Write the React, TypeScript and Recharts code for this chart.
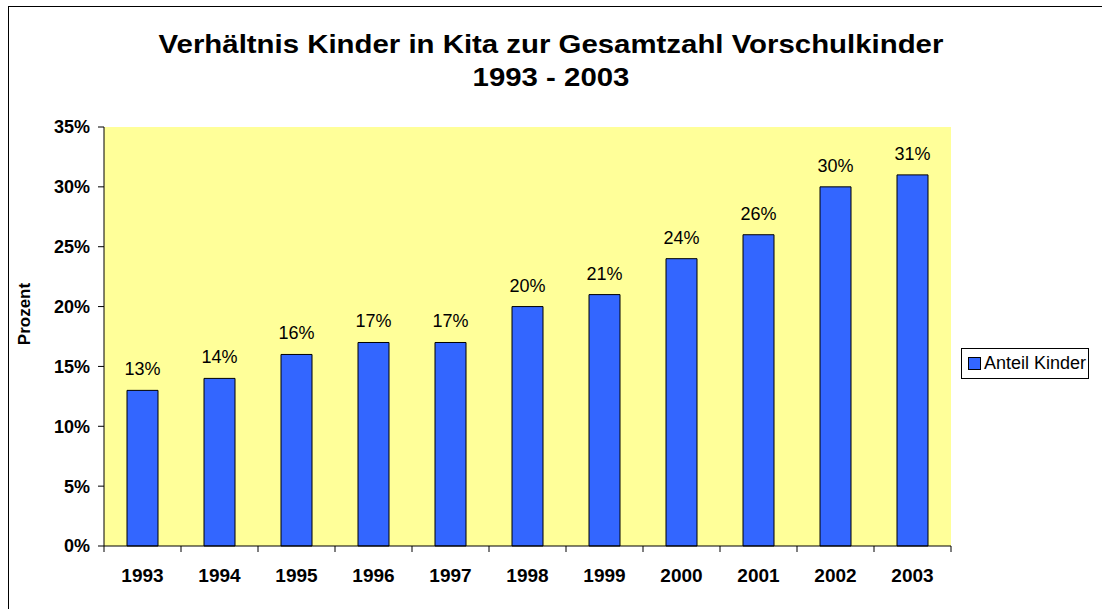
import React from 'react';
import { BarChart, Bar, XAxis, YAxis, CartesianGrid, LabelList } from 'recharts';

const years = ['1993', '1994', '1995', '1996', '1997', '1998', '1999', '2000', '2001', '2002', '2003'];
const anteilKinder = [13, 14, 16, 17, 17, 20, 21, 24, 26, 30, 31];
const yTicks = [0, 5, 10, 15, 20, 25, 30, 35];

const data = years.map((year, i) => ({ year, anteil: anteilKinder[i] }));

const FONT = '"Liberation Sans", Arial, sans-serif';

// x ticks sit between the categories, labels in the middle
const XTick = (props: any) => {
  const { x, y, payload, index } = props;
  const half = payload.offset || 0;
  return (
    <g>
      <line x1={x - half} y1={y - 8} x2={x - half} y2={y - 2} stroke="#000" />
      {index === years.length - 1 && (
        <line x1={x + half} y1={y - 8} x2={x + half} y2={y - 2} stroke="#000" />
      )}
      <text x={x} y={y + 28} textAnchor="middle" fontFamily={FONT} fontSize={19} fontWeight="bold" fill="#000">
        {payload.value}
      </text>
    </g>
  );
};

const App: React.FC = () => {
  return (
    <div style={{ position: 'relative', width: 1102, height: 609, overflow: 'hidden', background: '#fff', fontFamily: FONT }}>
      <style>{'body{margin:0}'}</style>
      <div style={{ position: 'absolute', left: 8, top: 6, width: 1200, height: 700, border: '1px solid #000', boxSizing: 'border-box' }} />
      <div style={{ position: 'absolute', left: 0, width: 1102, top: 28, textAlign: 'center', fontSize: 26, fontWeight: 'bold', lineHeight: '33px', transform: 'scaleX(1.13)', transformOrigin: '551px 0' }}>
        <div>Verhältnis Kinder in Kita zur Gesamtzahl Vorschulkinder</div>
        <div>1993 - 2003</div>
      </div>
      <div style={{ position: 'absolute', left: 25, top: 314, transform: 'translate(-50%, -50%) rotate(-90deg)', fontSize: 17, fontWeight: 'bold', whiteSpace: 'nowrap' }}>
        Prozent
      </div>
      <div style={{ position: 'absolute', left: 0, top: 0 }}>
        <BarChart width={1102} height={609} data={data} margin={{ top: 127, right: 151, left: 0, bottom: 0 }}>
          <CartesianGrid fill="#FFFF99" horizontal={false} vertical={false} stroke="none" />
          <XAxis
            dataKey="year"
            height={63}
            axisLine={{ stroke: '#000' }}
            tickLine={false}
            tick={<XTick />}
            interval={0}
          />
          <YAxis
            width={104}
            domain={[0, 35]}
            ticks={yTicks}
            interval={0}
            tickFormatter={(v: number) => `${v}%`}
            axisLine={{ stroke: '#000' }}
            tickLine={{ stroke: '#000' }}
            tickSize={6}
            tickMargin={8}
            tick={{ fill: '#000', fontFamily: FONT, fontSize: 18, fontWeight: 'bold' }}
          />
          <Bar dataKey="anteil" fill="#3366FF" stroke="#000" strokeWidth={1} barSize={31} isAnimationActive={false}>
            <LabelList
              dataKey="anteil"
              position="top"
              offset={15}
              formatter={(v: any) => `${v}%`}
              style={{ fill: '#000', fontFamily: FONT, fontSize: 18 }}
            />
          </Bar>
        </BarChart>
      </div>
      <div style={{ position: 'absolute', left: 961, top: 348, width: 128, height: 31, border: '1px solid #000', boxSizing: 'border-box', display: 'flex', alignItems: 'center', fontSize: 18, background: '#fff', whiteSpace: 'nowrap' }}>
        <span style={{ display: 'inline-block', width: 11, height: 11, background: '#3366FF', border: '1px solid #000', marginLeft: 6, marginRight: 3, flexShrink: 0 }} />
        <span>Anteil Kinder</span>
      </div>
    </div>
  );
};

export default App;
